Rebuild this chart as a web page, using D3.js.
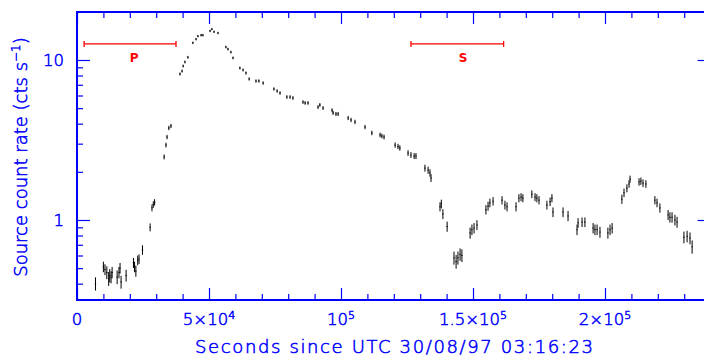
<!DOCTYPE html>
<html>
<head>
<meta charset="utf-8">
<script src="https://cdn.jsdelivr.net/npm/d3@7"></script>
<style>
  html, body { margin: 0; padding: 0; background: #fff; }
  svg { display: block; overflow: hidden; }
  text { font-family: "DejaVu Sans ExtraLight", "DejaVu Sans", sans-serif; font-weight: 200; fill: #0000ff; stroke: #0000ff; stroke-width: 0.55; }
</style>
</head>
<body>
<script>
// light curve: [seconds, rate (cts/s), 1-sigma error]
const riseData = [
  [7000, 0.40, 0.035],
  [10000, 0.51, 0.035], [10600, 0.49, 0.035], [11300, 0.47, 0.04], [12000, 0.43, 0.04], [12400, 0.45, 0.04], [12900, 0.44, 0.035], [13300, 0.47, 0.035],
  [15200, 0.44, 0.04], [15900, 0.47, 0.035], [16300, 0.50, 0.035], [16700, 0.41, 0.035], [18600, 0.45, 0.035],
  [21400, 0.54, 0.035], [21800, 0.51, 0.035], [22300, 0.48, 0.035], [23000, 0.56, 0.035], [23500, 0.57, 0.035], [24800, 0.65, 0.04],
  [27700, 0.90, 0.045], [28400, 1.19, 0.05], [28900, 1.25, 0.05], [29400, 1.29, 0.05],
  [33000, 2.48, 0.07], [33700, 2.94, 0.08], [34100, 3.30, 0.08], [34800, 3.76, 0.09], [35600, 3.87, 0.09],
];
const peakData = [
  [39000, 8.18, 0.12], [39800, 8.53, 0.12], [40200, 9.17, 0.12], [40900, 9.72, 0.13], [42000, 10.4, 0.13],
  [43900, 12.8, 0.14], [45100, 13.5, 0.14], [45800, 14.1, 0.14], [47000, 14.3, 0.15], [47700, 14.3, 0.15],
  [50400, 15.2, 0.15], [51100, 15.6, 0.15], [51900, 15.0, 0.15], [53400, 14.75, 0.15],
  [56400, 12.05, 0.14], [57200, 11.7, 0.14], [58300, 11.2, 0.14], [59100, 10.3, 0.13],
  [61700, 8.91, 0.12], [62900, 8.66, 0.12], [64000, 8.29, 0.12], [65200, 7.61, 0.12],
  [67800, 7.39, 0.12], [68900, 7.39, 0.12], [70500, 7.18, 0.12],
];
const decayData = [
  [74600, 6.59, 0.11], [75800, 6.40, 0.11], [76900, 6.22, 0.11],
  [79500, 5.87, 0.11], [80700, 5.87, 0.11], [81800, 5.79, 0.11],
  [85600, 5.46, 0.1], [86400, 5.39, 0.1], [87500, 5.39, 0.1],
  [91300, 5.08, 0.1], [92000, 5.24, 0.1], [93200, 5.01, 0.1],
  [96600, 4.85, 0.1], [97000, 4.67, 0.1], [98100, 4.60, 0.1], [98900, 4.60, 0.1],
  [102700, 4.34, 0.1], [103800, 4.22, 0.1], [105300, 4.10, 0.1],
  [109100, 3.81, 0.09], [111700, 3.50, 0.09],
  [114800, 3.40, 0.09], [115500, 3.35, 0.09], [116300, 3.30, 0.09],
  [120500, 2.94, 0.09], [121600, 2.88, 0.09], [122300, 2.82, 0.09],
  [125400, 2.62, 0.09], [126500, 2.55, 0.09], [127700, 2.51, 0.09], [128400, 2.51, 0.09],
  [131800, 2.11, 0.09], [133000, 2.05, 0.09], [133700, 1.97, 0.09], [134100, 1.83, 0.09],
];
const dipData = [
  [137500, 1.21, 0.07], [138000, 1.26, 0.07], [138600, 1.09, 0.07], [140200, 0.91, 0.06],
  [142800, 0.58, 0.05], [143600, 0.55, 0.05], [144300, 0.58, 0.05], [145100, 0.61, 0.05], [145800, 0.60, 0.05],
  [148900, 0.83, 0.06], [149600, 0.87, 0.06], [150400, 0.89, 0.06], [151500, 0.93, 0.06],
  [154900, 1.16, 0.07], [155700, 1.22, 0.07], [156400, 1.28, 0.07], [157600, 1.31, 0.07],
  [161000, 1.33, 0.07], [162100, 1.24, 0.07], [162900, 1.21, 0.07],
  [166300, 1.21, 0.07], [167400, 1.37, 0.07], [168200, 1.39, 0.07], [168900, 1.37, 0.07],
  [172300, 1.45, 0.07], [173500, 1.39, 0.07], [174200, 1.37, 0.07], [175000, 1.33, 0.07],
  [178000, 1.24, 0.07], [179200, 1.30, 0.07], [179900, 1.37, 0.07], [180300, 1.12, 0.07],
  [184100, 1.12, 0.07], [186000, 1.06, 0.07],
  [189400, 0.87, 0.06], [189800, 0.96, 0.06], [191300, 0.97, 0.06], [192400, 0.97, 0.06],
  [195500, 0.89, 0.06], [196200, 0.87, 0.06], [197000, 0.87, 0.06], [198100, 0.84, 0.06],
  [201100, 0.83, 0.06], [201900, 0.87, 0.06], [202700, 0.89, 0.06],
];
const flareData = [
  [206400, 1.35, 0.08], [207200, 1.48, 0.08], [208300, 1.58, 0.08], [209100, 1.68, 0.08], [209500, 1.80, 0.08],
  [212900, 1.73, 0.08], [213600, 1.75, 0.08], [214400, 1.70, 0.08], [215500, 1.68, 0.08],
  [218900, 1.33, 0.07], [219700, 1.28, 0.07], [220800, 1.19, 0.07],
  [223900, 1.075, 0.07], [224600, 1.04, 0.07], [225400, 1.04, 0.07], [226500, 1.0, 0.07], [227300, 0.97, 0.07],
  [229900, 0.78, 0.06], [231100, 0.79, 0.06], [232200, 0.77, 0.06], [233000, 0.68, 0.06],
];

// spectral intervals: name, start, end, rate level, label position
const intervals = [
  { name: 'P', start: 2700, end: 37500, level: 12.6, labelAt: 21600 },
  { name: 'S', start: 126500, end: 161600, level: 12.6, labelAt: 146200 },
];

const xMajorTicks = [0, 5e4, 1e5, 1.5e5, 2e5];
const xTickLabels = [['0', ''], ['5×10', '4'], ['10', '5'], ['1.5×10', '5'], ['2×10', '5']];
const yMajorTicks = [1, 10];
const yTickLabels = ['1', '10'];
const yMinorTicks = [0.4, 0.5, 0.6, 0.7, 0.8, 0.9, 2, 3, 4, 5, 6, 7, 8, 9];

const width = 704;
const height = 356;
const margin = { top: 12, left: 77 };
const board = { width: 633.6, height: 288 };
const binHalf = 250;

const svg = d3.select('body')
  .append('svg')
    .attr('width', width)
    .attr('height', height)
    .attr('viewBox', [0, 0, width, height].join(' '));

const g = svg.append('g')
  .attr('transform', `translate(${margin.left}, ${margin.top})`);

const x = d3.scaleLinear()
  .domain([0, 2.4e5])
  .range([0, board.width]);

const y = d3.scaleLog()
  .domain([Math.pow(10, -0.5), Math.pow(10, 1.3)])
  .range([board.height, 0]);

const xMinorTicks = d3.range(0, 2.4e5 + 1, 1e4).filter((d) => d % 5e4 !== 0);

const styleAxis = (sel) => {
  sel.selectAll('.tick line').attr('stroke', '#0000ff').attr('stroke-width', 1.2);
  sel.selectAll('.tick text').remove();
  sel.select('.domain').remove();
};

// ticks on all four sides, pointing inwards
[[d3.axisBottom, `translate(0, ${board.height})`], [d3.axisTop, 'translate(0, 0)']].forEach(([ax, tr]) => {
  g.append('g').attr('transform', tr)
    .call(ax(x).tickValues(xMajorTicks).tickSize(-12).tickSizeOuter(0)).call(styleAxis);
  g.append('g').attr('transform', tr)
    .call(ax(x).tickValues(xMinorTicks).tickSize(-6).tickSizeOuter(0)).call(styleAxis);
});

[[d3.axisLeft, 'translate(0, 0)'], [d3.axisRight, `translate(${board.width}, 0)`]].forEach(([ax, tr]) => {
  g.append('g').attr('transform', tr)
    .call(ax(y).tickValues(yMajorTicks).tickSize(-13).tickSizeOuter(0)).call(styleAxis);
  g.append('g').attr('transform', tr)
    .call(ax(y).tickValues(yMinorTicks).tickSize(-6).tickSizeOuter(0)).call(styleAxis);
});

// frame
g.append('rect')
  .attr('width', board.width)
  .attr('height', board.height)
  .attr('fill', 'none')
  .attr('stroke', '#0000ff')
  .attr('stroke-width', 2);

// tick labels
const xl = g.append('g');
xMajorTicks.forEach((v, i) => {
  const t = xl.append('text')
    .attr('x', x(v))
    .attr('y', board.height + 25)
    .attr('text-anchor', 'middle')
    .attr('font-size', 16.5);
  t.append('tspan').text(xTickLabels[i][0]);
  if (xTickLabels[i][1]) {
    t.append('tspan').attr('font-size', 11).attr('dy', -6).text(xTickLabels[i][1]);
  }
});

yMajorTicks.forEach((v, i) => {
  g.append('text')
    .attr('x', -13)
    .attr('y', y(v) + 6)
    .attr('text-anchor', 'end')
    .attr('font-size', 16.5)
    .text(yTickLabels[i]);
});

// axis titles
svg.append('text')
  .attr('x', 394)
  .attr('y', 353)
  .attr('text-anchor', 'middle')
  .attr('font-size', 18)
  .attr('textLength', 398)
  .attr('lengthAdjust', 'spacing')
  .text('Seconds since UTC 30/08/97 03:16:23');

const yt = svg.append('text')
  .attr('transform', 'translate(27, 157) rotate(-90)')
  .attr('text-anchor', 'middle')
  .attr('font-size', 18);
yt.append('tspan').text('Source count rate (cts s');
yt.append('tspan').attr('font-size', 12).attr('dy', -7).text('−1');
yt.append('tspan').attr('dy', 7).text(')');

// intervals
const iv = g.selectAll('.interval')
  .data(intervals)
  .enter()
    .append('g')
    .attr('class', 'interval');

iv.append('line')
  .attr('x1', (d) => x(d.start)).attr('x2', (d) => x(d.end))
  .attr('y1', (d) => y(d.level)).attr('y2', (d) => y(d.level))
  .attr('stroke', '#ff0000').attr('stroke-width', 1.3);

iv.selectAll('.cap')
  .data((d) => [d.start, d.end].map((v) => ({ v, level: d.level })))
  .enter()
    .append('line')
    .attr('x1', (d) => x(d.v)).attr('x2', (d) => x(d.v))
    .attr('y1', (d) => y(d.level) - 3).attr('y2', (d) => y(d.level) + 3)
    .attr('stroke', '#ff0000').attr('stroke-width', 1.3);

iv.append('text')
  .attr('x', (d) => x(d.labelAt))
  .attr('y', (d) => y(d.level) + 18)
  .attr('text-anchor', 'middle')
  .attr('font-size', 12)
  .style('font-family', '"DejaVu Sans", sans-serif')
  .style('font-weight', 'bold')
  .style('fill', '#ff0000')
  .style('stroke', 'none')
  .text((d) => d.name);

// data points with error bars
const points = [].concat(riseData, peakData, decayData, dipData, flareData);

const pts = g.selectAll('.pt')
  .data(points)
  .enter()
    .append('g')
    .attr('class', 'pt');

pts.append('line')
  .attr('x1', (d) => x(d[0])).attr('x2', (d) => x(d[0]))
  .attr('y1', (d) => y(d[1] - d[2]) + 0.5).attr('y2', (d) => y(d[1] + d[2]) - 0.5)
  .attr('stroke', '#000').attr('stroke-width', 1);

pts.append('line')
  .attr('x1', (d) => x(d[0] - binHalf)).attr('x2', (d) => x(d[0] + binHalf))
  .attr('y1', (d) => y(d[1])).attr('y2', (d) => y(d[1]))
  .attr('stroke', '#000').attr('stroke-width', 1);
</script>
</body>
</html>
